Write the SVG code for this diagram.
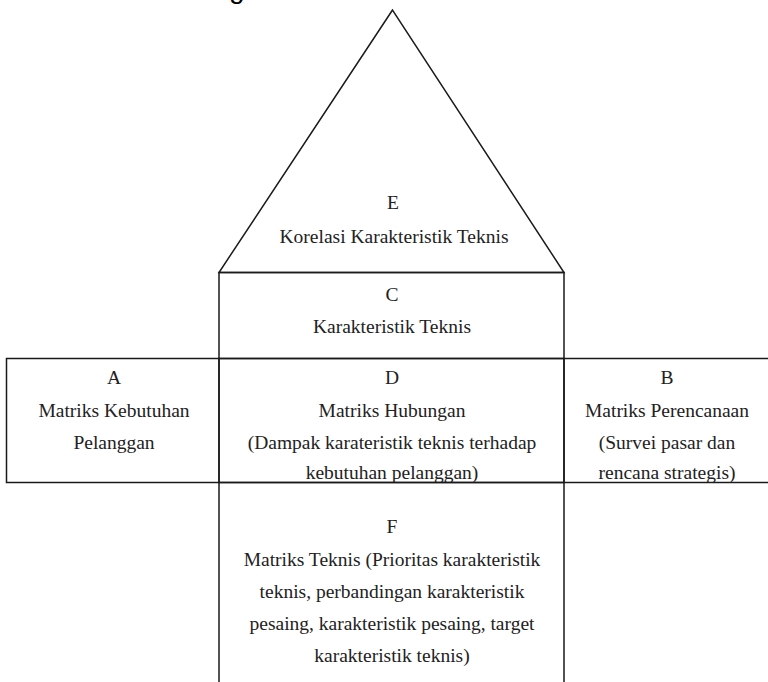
<svg xmlns="http://www.w3.org/2000/svg" width="768" height="682" viewBox="0 0 768 682">
<style>
.ln{fill:none;stroke:#1a1a1a;stroke-width:1.5}
.t{font-size:19.5px;fill:#222222;text-anchor:middle}
</style>
<rect width="768" height="682" fill="#ffffff"/>
<text x="229" y="-2" font-family="'Liberation Sans', Arial, sans-serif" font-size="28" fill="#000">g</text>
<g id="connectors"></g>
<g font-family="'Liberation Serif', 'Times New Roman', serif">
<g id="nodeE">
<polygon class="ln" points="392.5,10 219,272.5 564,272.5"/>
<text class="t" x="393" y="209">E</text>
<text class="t" x="394" y="243">Korelasi Karakteristik Teknis</text>
</g>
<g id="nodeC">
<rect class="ln" x="219" y="272.5" width="345" height="86"/>
<text class="t" x="392" y="301">C</text>
<text class="t" x="392" y="333">Karakteristik Teknis</text>
</g>
<g id="nodeA">
<rect class="ln" x="6.5" y="358.5" width="212.5" height="124"/>
<text class="t" x="114" y="384">A</text>
<text class="t" x="114" y="417">Matriks Kebutuhan</text>
<text class="t" x="114" y="449">Pelanggan</text>
</g>
<g id="nodeD">
<rect class="ln" x="219" y="358.5" width="345" height="124"/>
<text class="t" x="392" y="384">D</text>
<text class="t" x="392" y="417">Matriks Hubungan</text>
<text class="t" x="392" y="449">(Dampak karateristik teknis terhadap</text>
<text class="t" x="392" y="479">kebutuhan pelanggan)</text>
</g>
<g id="nodeB">
<rect class="ln" x="564" y="358.5" width="206" height="124"/>
<text class="t" x="667" y="384">B</text>
<text class="t" x="667" y="417">Matriks Perencanaan</text>
<text class="t" x="667" y="449">(Survei pasar dan</text>
<text class="t" x="667" y="479">rencana strategis)</text>
</g>
<g id="nodeF">
<path class="ln" d="M219,482.5 V690 M564,482.5 V690 M219,482.5 H564"/>
<text class="t" x="392" y="533">F</text>
<text class="t" x="392" y="566">Matriks Teknis (Prioritas karakteristik</text>
<text class="t" x="392" y="598">teknis, perbandingan karakteristik</text>
<text class="t" x="392" y="630">pesaing, karakteristik pesaing, target</text>
<text class="t" x="392" y="662">karakteristik teknis)</text>
</g>
</g>
</svg>
